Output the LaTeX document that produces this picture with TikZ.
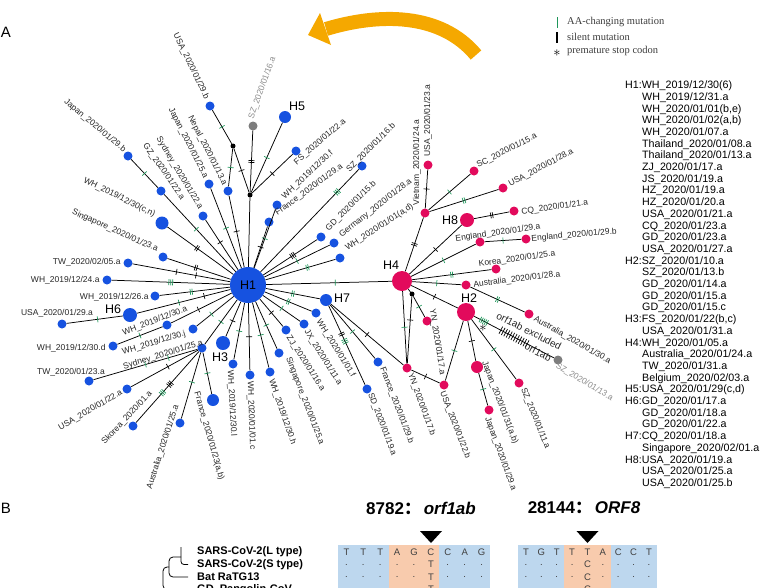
\documentclass[tikz,border=0pt]{standalone}
\usepackage{fontspec}
\setmainfont{Liberation Sans}
\newfontfamily\legfont{Liberation Serif}
\newfontfamily\cjkfont{Noto Sans CJK SC}
\usetikzlibrary{arrows.meta}
\definecolor{nblue}{RGB}{22,82,224}
\definecolor{npink}{RGB}{226,10,92}
\definecolor{ngray}{RGB}{125,125,125}
\definecolor{tgreen}{RGB}{30,150,90}
\definecolor{aorange}{RGB}{245,168,0}
\definecolor{cblue}{RGB}{189,215,238}
\definecolor{corange}{RGB}{248,203,173}
\definecolor{legtext}{RGB}{60,60,60}
\newcommand\tkI{\rule[-3pt]{0.7pt}{6pt}}
\newcommand\tkII{\tkI\hspace{1.2pt}\tkI}
\newcommand\tkIII{\tkI\hspace{1.2pt}\tkI\hspace{1.2pt}\tkI}
\newcommand\tkV{\tkIII\hspace{1.2pt}\tkII}
\newcommand\tkL{\rule[-4pt]{0.7pt}{8pt}\hspace{2pt}}
\newcommand\tkLong{\tkL\tkL\tkL\tkL\tkL\tkL\tkL\tkL\tkL\tkL\tkL\rule[-4pt]{0.7pt}{8pt}}
\begin{document}
\begin{tikzpicture}[x=1pt,y=-1pt,
  bn/.style={circle,fill=nblue,inner sep=0,minimum size=9pt},
  pn/.style={circle,fill=npink,inner sep=0,minimum size=9pt},
  gn/.style={circle,fill=ngray,inner sep=0,minimum size=9pt},
  jn/.style={circle,fill=black,inner sep=0,minimum size=5pt},
  hl/.style={font=\fontsize{12.5}{12.5}\selectfont,inner sep=0},
  lab/.style={font=\fontsize{8.5}{8.5}\selectfont,inner sep=0.3pt,text=black!85},
  glab/.style={lab,text=black!45},
  edg/.style={line width=0.75pt},
  tg/.style={sloped,inner sep=0,text=tgreen},
  tb/.style={sloped,inner sep=0,text=black},
  lst/.style={font=\fontsize{10.7}{10.7}\selectfont,inner sep=0,anchor=base west},
  leg/.style={font=\legfont\fontsize{10.5}{10.5}\selectfont,text=legtext,inner sep=0,anchor=west},
  seq/.style={font=\fontsize{9.5}{9.5}\selectfont,text=black!75,inner sep=0},
  blab/.style={font=\bfseries\fontsize{11}{11}\selectfont,inner sep=0,anchor=west},
  ttl/.style={font=\bfseries\fontsize{17}{17}\selectfont,inner sep=0}
]
\useasboundingbox (0,0) rectangle (768,587);
\clip (0,0) rectangle (768,587);

% ---------- panel letters ----------
\node[font=\fontsize{15}{15}\selectfont,inner sep=0] (pA) at (6,32) {A};
\node[font=\fontsize{15}{15}\selectfont,inner sep=0] (pB) at (6,508) {B};

% ---------- orange arrow ----------
\draw[aorange,line width=14pt] (476,55) .. controls (440.6,12.4) and (378.9,13) .. (326,29);
\fill[aorange] (320,13) -- (331,45) -- (308,35) -- cycle;

% ---------- legend ----------
\draw[tgreen,line width=0.9pt] (557,17) -- (557,28);
\draw[black,line width=1.1pt] (557,32) -- (557,43);
\node[inner sep=0,font=\Large] (lgs) at (557,53) {$\ast$};
\node[leg] (lg1) at (567,22) {AA-changing mutation};
\node[leg] (lg2) at (567,37) {silent mutation};
\node[leg] (lg3) at (567,51) {premature stop codon};

% ---------- hub and haplotypes ----------
\node[circle,fill=nblue,inner sep=0,minimum size=36pt,font=\fontsize{12.5}{12.5}\selectfont] (H1) at (248,285) {H1};
\node[pn,minimum size=20pt] (H4) at (402,281) {};
\node[pn,minimum size=18pt] (H2) at (466,312) {};
\node[pn,minimum size=14pt] (H8) at (467,220) {};
\node[bn,minimum size=12pt] (H7) at (326,300) {};
\node[bn,minimum size=14pt] (H3) at (223,343) {};
\node[bn,minimum size=14pt] (H6) at (130,315) {};
\node[bn,minimum size=12pt] (H5) at (285,117) {};
\node[hl] (tH4) at (391,265) {H4};
\node[hl] (tH2) at (469,298) {H2};
\node[hl] (tH8) at (450,220) {H8};
\node[hl] (tH7) at (342,298) {H7};
\node[hl] (tH3) at (220,357) {H3};
\node[hl] (tH6) at (113,309) {H6};
\node[hl] (tH5) at (297,106) {H5};

% ---------- blue leaves ----------
\node[jn] (J1) at (233,146) {};
\node[jn] (J2) at (250,195) {};
\node[bn] (U29b) at (210,106) {};
\node[bn] (Nep) at (228,191) {};
\node[bn] (Jp25a) at (209,184) {};
\node[bn] (Syd22) at (203,216) {};
\node[bn] (GZ) at (161,191) {};
\node[bn] (Jp29b) at (128,156) {};
\node[bn,minimum size=13pt] (WHcn) at (162,223) {};
\node[bn] (Sg23) at (163,257) {};
\node[bn] (TW05) at (128,263) {};
\node[bn] (W24) at (107,280) {};
\node[bn] (W26) at (155,296) {};
\node[bn] (U29a) at (62,324) {};
\node[bn] (W30a) at (167,325) {};
\node[bn] (W30d) at (113,346) {};
\node[bn] (W30j) at (193,329) {};
\node[bn] (Syd25) at (202,348) {};
\node[bn] (TW23) at (89,381) {};
\node[bn] (U22a) at (127,389) {};
\node[bn] (Sko) at (133,426) {};
\node[bn] (Au25) at (180,423) {};
\node[bn,minimum size=12pt] (Fr23) at (213,400) {};
\node[bn] (W30l) at (233,364) {};
\node[bn] (W01c) at (250,375) {};
\node[bn] (W30h) at (270,372) {};
\node[bn] (Sg25) at (279,353) {};
\node[bn] (ZJ) at (286,330) {};
\node[bn] (JX) at (304,324) {};
\node[bn] (W01f) at (316,313) {};
\node[bn] (SD) at (367,389) {};
\node[bn] (Fr29b) at (378,362) {};
\node[gn] (SZ16a) at (253,126) {};
\node[bn] (FS) at (296,151) {};
\node[bn] (W30f) at (277,205) {};
\node[bn] (Fr29a) at (269,222) {};
\node[bn] (SZ16b) at (362,166) {};
\node[bn] (GD15b) at (321,237) {};
\node[bn] (Ger) at (334,243) {};
\node[bn] (W01ad) at (340,258) {};

% ---------- pink leaves ----------
\node[pn] (YNb) at (407,368) {};
\node[jn] (J3) at (412,294) {};
\node[pn] (YNa) at (427,321) {};
\node[pn] (V) at (425,213) {};
\node[pn] (U23a) at (428,165) {};
\node[pn] (SC) at (474,171) {};
\node[pn] (U28a) at (503,188) {};
\node[pn] (CQ) at (514,211) {};
\node[pn] (Ea) at (480,242) {};
\node[pn] (Eb) at (526,239) {};
\node[pn] (Ko) at (496,269) {};
\node[pn] (Au28) at (466,285) {};
\node[pn] (Au30) at (529,314) {};
\node[gn] (SZ13a) at (558,360) {};
\node[pn] (SZ11) at (519,383) {};
\node[pn,minimum size=12pt] (Jp31) at (477,367) {};
\node[pn] (Jp29a) at (489,410) {};
\node[pn] (U22b) at (444,385) {};

% ---------- edges ----------
\draw[edg] (H1) -- (Nep) node[tb,pos=.5]{\tkI};
\draw[edg] (Nep) -- (J1) node[tg,pos=.5]{\tkI};
\draw[edg] (J1) -- (U29b) node[tg,pos=.5]{\tkI};
\draw[edg] (J1) -- (J2) node[tb,pos=.5]{\tkI};
\draw[edg] (H1) -- (J2);
\draw[edg] (J2) -- (SZ16a) node[tb,pos=.5]{\tkII};
\draw[edg] (J2) -- (H5) node[tg,pos=.5]{\tkI};
\draw[edg] (J2) -- (FS) node[tb,pos=.5]{\tkI};
\draw[edg] (Jp25a) -- (H1) node[tg,pos=.5]{\tkI};
\draw[edg] (Syd22) -- (H1) node[tb,pos=.45]{\tkI};
\draw[edg] (GZ) -- (H1) node[tg,pos=.45]{\tkI};
\draw[edg] (Jp29b) -- (GZ) node[tg,pos=.5]{\tkI};
\draw[edg] (WHcn) -- (H1) node[tb,pos=.45]{\tkII};
\draw[edg] (Sg23) -- (H1) node[tb,pos=.45]{\tkII};
\draw[edg] (TW05) -- (H1) node[tb,pos=.45]{\tkI} node[tb,pos=.65]{\tkI};
\draw[edg] (W24) -- (H1) node[tg,pos=.5]{\tkIII};
\draw[edg] (W26) -- (H1) node[tg,pos=.45]{\tkII};
\draw[edg] (H6) -- (H1) node[tg,pos=.45]{\tkI} node[tb,pos=.72]{\tkI};
\draw[edg] (U29a) -- (H6) node[tg,pos=.55]{\tkI};
\draw[edg] (W30a) -- (H1) node[tb,pos=.45]{\tkI};
\draw[edg] (W30d) -- (W30a) node[tg,pos=.5]{\tkI};
\draw[edg] (W30j) -- (H1) node[tg,pos=.4]{\tkI};
\draw[edg] (Syd25) -- (H1) node[tg,pos=.5]{\tkI};
\draw[edg] (TW23) -- (Syd25) node[tg,pos=.5]{\tkI} node[tg,pos=.72]{\tkI};
\draw[edg] (U22a) -- (Syd25) node[tb,pos=.55]{\tkI};
\draw[edg] (Sko) -- (Syd25) node[tg,pos=.42]{\tkIII} node[tb,pos=.54]{\tkIII};
\draw[edg] (Au25) -- (Syd25) node[tg,pos=.55]{\tkI};
\draw[edg] (Fr23) -- (Syd25) node[tg,pos=.5]{\tkI};
\draw[edg] (H3) -- (H1) node[tb,pos=.45]{\tkI};
\draw[edg] (W30l) -- (H1) node[tg,pos=.5]{\tkI};
\draw[edg] (W01c) -- (H1) node[tb,pos=.5]{\tkI};
\draw[edg] (W30h) -- (H1) node[tg,pos=.5]{\tkI};
\draw[edg] (Sg25) -- (H1) node[tg,pos=.5]{\tkI};
\draw[edg] (ZJ) -- (H1) node[tb,pos=.5]{\tkI};
\draw[edg] (JX) -- (H1) node[tg,pos=.5]{\tkI};
\draw[edg] (W01f) -- (H1) node[tg,pos=.5]{\tkII};
\draw[edg] (H7) -- (H1) node[tg,pos=.5]{\tkII};
\draw[edg] (SD) -- (H7) node[tg,pos=.55]{\tkIII} node[tb,pos=.64]{\tkII};
\draw[edg] (Fr29b) -- (H7) node[tg,pos=.5]{\tkI};
\draw[edg] (YNb) -- (H7) node[tb,pos=.5]{\tkI};
\draw[edg] (H1) -- (H4) node[tg,pos=.55]{\tkI};
\draw[edg] (W30f) -- (H1) node[tg,pos=.5]{\tkI};
\draw[edg] (Fr29a) -- (H1) node[tb,pos=.5]{\tkI};
\draw[edg] (SZ16b) -- (H1) node[tg,pos=.22]{\tkIII};
\draw[edg] (GD15b) -- (H1) node[tb,pos=.45]{\tkIII};
\draw[edg] (Ger) -- (H1) node[tg,pos=.5]{\tkI};
\draw[edg] (W01ad) -- (H1) node[tg,pos=.4]{\tkII};
% right cluster
\draw[edg] (V) -- (H4) node[tb,pos=.5]{\tkII};
\draw[edg] (V) -- (U23a) node[tb,pos=.5]{\tkI};
\draw[edg] (V) -- (SC) node[tg,pos=.5]{\tkI};
\draw[edg] (V) -- (U28a) node[tg,pos=.5]{\tkII};
\draw[edg] (H4) -- (H8) node[tb,pos=.5]{\tkI};
\draw[edg] (H8) -- (CQ) node[tb,pos=.5]{\tkII};
\draw[edg] (H4) -- (Ea) node[tg,pos=.5]{\tkI};
\draw[edg] (Ea) -- (Eb) node[tg,pos=.5]{\tkI};
\draw[edg] (H4) -- (Ko) node[tg,pos=.5]{\tkII};
\draw[edg] (H4) -- (Au28) node[tg,pos=.5]{\tkI};
\draw[edg] (Au28) -- (Au30) node[tg,pos=.5]{\tkII};
\draw[edg] (H4) -- (H2) node[tb,pos=.5]{\tkI};
\draw[edg] (H2) -- (SZ13a) node[tg,pos=.12]{\tkV} node[tb,pos=.5]{\tkLong};
\node[inner sep=0,font=\Large] (st) at (483,328) {$\ast$};
\draw[edg] (H2) -- (SZ11) node[tg,pos=.5]{\tkI};
\draw[edg] (H2) -- (Jp31) node[tb,pos=.5]{\tkI};
\draw[edg] (Jp31) -- (Jp29a) node[tg,pos=.5]{\tkI};
\draw[edg] (H2) -- (U22b) node[tg,pos=.5]{\tkI};
\draw[edg] (YNb) -- (U22b) node[tb,pos=.5]{\tkI};
\draw[edg] (H4) -- (J3);
\draw[edg] (J3) -- (YNa) node[tg,pos=.5]{\tkI};
\draw[edg] (J3) -- (YNb) node[tb,pos=.35]{\tkI};
\draw[edg] (H4) -- (YNb) node[tg,pos=.5]{\tkI};

% ---------- labels (blue side) ----------
\node[lab,rotate=-64,anchor=east] (lU29b) at (207,99) {USA\_2020/01/29.b};
\node[lab,rotate=-63,anchor=east] (lNep) at (225,185) {Nepal\_2020/01/13.a};
\node[lab,rotate=-63,anchor=east] (lJp25a) at (206,178) {Japan\_2020/01/25.a};
\node[lab,rotate=-59,anchor=east] (lSyd22) at (201,209) {Sydney\_2020/01/22.a};
\node[lab,rotate=-55,anchor=east] (lGZ) at (183,199) {GZ\_2020/01/22.a};
\node[lab,rotate=-40,anchor=east] (lJp29b) at (125,151) {Japan\_2020/01/29.b};
\node[lab,rotate=-26,anchor=east] (lWHcn) at (155,215) {WH\_2019/12/30(c,n)};
\node[lab,rotate=-24,anchor=east] (lSg23) at (158,250) {Singapore\_2020/01/23.a};
\node[lab,anchor=east] (lTW05) at (121,262) {TW\_2020/02/05.a};
\node[lab,anchor=east] (lW24) at (100,280) {WH\_2019/12/24.a};
\node[lab,anchor=east] (lW26) at (149,297) {WH\_2019/12/26.a};
\node[lab] (lU29a) at (57,313) {USA\_2020/01/29.a};
\node[lab,rotate=21] (lW30a) at (155,321) {WH\_2019/12/30.a};
\node[lab,rotate=17] (lW30j) at (154,343) {WH\_2019/12/30.j};
\node[lab,anchor=east] (lW30d) at (106,348) {WH\_2019/12/30.d};
\node[lab,rotate=17] (lSyd25) at (163,355) {Sydney\_2020/01/25.a};
\node[lab] (lTW23) at (71,372) {TW\_2020/01/23.a};
\node[lab,rotate=30,anchor=east] (lU22a) at (122,392) {USA\_2020/01/22.a};
\node[lab,rotate=47] (lSko) at (127,418) {Skorea\_2020/01.a};
\node[lab,rotate=72] (lAu25) at (163,447) {Australia\_2020/01/25.a};
\node[lab,rotate=-74] (lFr23) at (209,436) {France\_2020/01/23(a,b)};
\node[lab,rotate=-87,anchor=west] (lW30l) at (230,370) {WH\_2019/12/30.l};
\node[lab,rotate=-88,anchor=west] (lW01c) at (250,381) {WH\_2020/01/01.c};
\node[lab,rotate=-71,anchor=west] (lW30h) at (271,379) {WH\_2019/12/30.h};
\node[lab,rotate=-69,anchor=west] (lSg25) at (288,357) {Singapore\_2020/01/25.a};
\node[lab,rotate=-57,anchor=west] (lZJ) at (288,336) {ZJ\_2020/01/16.a};
\node[lab,rotate=-58,anchor=west] (lJX) at (306,330) {JX\_2020/01/11.a};
\node[lab,rotate=-58,anchor=west] (lW01f) at (318,320) {WH\_2020/01/01.f};
\node[lab,rotate=-69,anchor=west] (lSD) at (370,393) {SD\_2020/01/19.a};
\node[lab,rotate=-69,anchor=west] (lFr29b) at (382,367) {France\_2020/01/29.b};
\node[lab,rotate=-70,anchor=west] (lYNb) at (410,373) {YN\_2020/01/17.b};
\node[glab,rotate=70,anchor=west] (lSZ16a) at (251,119) {SZ\_2020/01/16.a};
\node[lab,rotate=41] (lFS) at (320,142) {FS\_2020/01/22.a};
\node[lab,rotate=43,anchor=west] (lW30f) at (283,198) {WH\_2019/12/30.f};
\node[lab,rotate=36,anchor=west] (lFr29a) at (276,214) {France\_2020/01/29.a};
\node[lab,rotate=45] (lSZ16b) at (371,148) {SZ\_2020/01/16.b};
\node[lab,rotate=45,anchor=west] (lGD15b) at (327,230) {GD\_2020/01/15.b};
\node[lab,rotate=38,anchor=west] (lGer) at (340,236) {Germany\_2020/01/28.a};
\node[lab,rotate=33,anchor=west] (lW01ad) at (346,249) {WH\_2020/01/01(a,d)};

% ---------- labels (pink side) ----------
\node[lab,rotate=90,anchor=west] (lV) at (417,206) {Vietnam\_2020/01/24.a};
\node[lab,rotate=90,anchor=west] (lU23a) at (428,157) {USA\_2020/01/23.a};
\node[lab,rotate=27,anchor=west] (lSC) at (477,166) {SC\_2020/01/15.a};
\node[lab,rotate=28,anchor=west] (lU28a) at (509,185) {USA\_2020/01/28.a};
\node[lab,rotate=8,anchor=west] (lCQ) at (521,212) {CQ\_2020/01/21.a};
\node[lab,rotate=8] (lEa) at (498,233) {England\_2020/01/29.a};
\node[lab,rotate=5,anchor=west] (lEb) at (531,239) {England\_2020/01/29.b};
\node[lab,rotate=8] (lKo) at (517,259) {Korea\_2020/01/25.a};
\node[lab,rotate=7,anchor=west] (lAu28) at (473,285) {Australia\_2020/01/28.a};
\node[lab,rotate=-30,anchor=west] (lAu30) at (534,318) {Australia\_2020/01/30.a};
\node[glab,rotate=-31,anchor=west] (lSZ13a) at (556,365) {SZ\_2020/01/13.a};
\node[lab,rotate=-68,anchor=west] (lSZ11) at (523,388) {SZ\_2020/01/11.a};
\node[lab,rotate=-69,anchor=west] (lJp31) at (484,361) {Japan\_2020/01/31(a,b)};
\node[lab,rotate=-70,anchor=west] (lJp29a) at (487,417) {Japan\_2020/01/29.a};
\node[lab,rotate=-69,anchor=west] (lU22b) at (442,391) {USA\_2020/01/22.b};
\node[lab,rotate=-81,anchor=west] (lYNa) at (432,309) {YN\_2020/01/17.a};
\node[lab,font=\fontsize{10}{10}\selectfont,rotate=-27] (lorfx) at (529,331) {orf1ab excluded};
\node[lab,font=\fontsize{10}{10}\selectfont,rotate=-27] (lorf) at (538,352) {orf1ab};

% ---------- haplotype list ----------
\node[lst] (r0) at (625,88.6) {H1:WH\_2019/12/30(6)};
\node[lst] (r1) at (642,100.3) {WH\_2019/12/31.a};
\node[lst] (r2) at (642,112.0) {WH\_2020/01/01(b,e)};
\node[lst] (r3) at (642,123.7) {WH\_2020/01/02(a,b)};
\node[lst] (r4) at (642,135.4) {WH\_2020/01/07.a};
\node[lst] (r5) at (642,147.1) {Thailand\_2020/01/08.a};
\node[lst] (r6) at (642,158.8) {Thailand\_2020/01/13.a};
\node[lst] (r7) at (642,170.5) {ZJ\_2020/01/17.a};
\node[lst] (r8) at (642,182.2) {JS\_2020/01/19.a};
\node[lst] (r9) at (642,193.9) {HZ\_2020/01/19.a};
\node[lst] (r10) at (642,205.6) {HZ\_2020/01/20.a};
\node[lst] (r11) at (642,217.3) {USA\_2020/01/21.a};
\node[lst] (r12) at (642,229.0) {CQ\_2020/01/23.a};
\node[lst] (r13) at (642,240.7) {GD\_2020/01/23.a};
\node[lst] (r14) at (642,252.4) {USA\_2020/01/27.a};
\node[lst] (r15) at (625,264.1) {H2:SZ\_2020/01/10.a};
\node[lst] (r16) at (642,275.8) {SZ\_2020/01/13.b};
\node[lst] (r17) at (642,287.5) {GD\_2020/01/14.a};
\node[lst] (r18) at (642,299.2) {GD\_2020/01/15.a};
\node[lst] (r19) at (642,310.9) {GD\_2020/01/15.c};
\node[lst] (r20) at (625,322.6) {H3:FS\_2020/01/22(b,c)};
\node[lst] (r21) at (642,334.3) {USA\_2020/01/31.a};
\node[lst] (r22) at (625,346.0) {H4:WH\_2020/01/05.a};
\node[lst] (r23) at (642,357.7) {Australia\_2020/01/24.a};
\node[lst] (r24) at (642,369.4) {TW\_2020/01/31.a};
\node[lst] (r25) at (642,381.1) {Belgium\_2020/02/03.a};
\node[lst] (r26) at (625,392.8) {H5:USA\_2020/01/29(c,d)};
\node[lst] (r27) at (625,404.5) {H6:GD\_2020/01/17.a};
\node[lst] (r28) at (642,416.2) {GD\_2020/01/18.a};
\node[lst] (r29) at (642,427.9) {GD\_2020/01/22.a};
\node[lst] (r30) at (625,439.6) {H7:CQ\_2020/01/18.a};
\node[lst] (r31) at (642,451.3) {Singapore\_2020/02/01.a};
\node[lst] (r32) at (625,463.0) {H8:USA\_2020/01/19.a};
\node[lst] (r33) at (642,474.7) {USA\_2020/01/25.a};
\node[lst] (r34) at (642,486.4) {USA\_2020/01/25.b};

% ---------- panel B ----------
\node[ttl] (t1) at (421,508) {8782{\cjkfont ：}\,\textit{orf1ab}};
\node[ttl] (t2) at (584,508) {28144{\cjkfont ：}\,\textit{ORF8}};
\fill (420,531) -- (442,531) -- (431,543) -- cycle;
\fill (576.5,531) -- (598.5,531) -- (587.5,543) -- cycle;

\fill[cblue] (338,545) rectangle (490,596);
\fill[corange] (388.7,545) rectangle (439.3,596);
\fill[cblue] (518.3,545) rectangle (656.7,596);
\fill[corange] (564.4,545) rectangle (610.6,596);
\foreach \c [count=\i from 0] in {T,T,T,A,G,C,C,A,G}
  \node[seq] (sa\i) at ({346.4+16.9*\i},552) {\c};
\foreach \r in {1,2,3}
  \foreach \i in {0,...,8}
    \node[seq] (sa\r-\i) at ({346.4+16.9*\i},{552+12.5*\r}) {\ifnum\i=5 T\else .\fi};
\foreach \c [count=\i from 0] in {T,G,T,T,T,A,C,C,T}
  \node[seq] (sb\i) at ({526+15.38*\i},552) {\c};
\foreach \r in {1,2,3}
  \foreach \i in {0,...,8}
    \node[seq] (sb\r-\i) at ({526+15.38*\i},{552+12.5*\r}) {\ifnum\i=4 C\else .\fi};

\node[blab] (bL) at (197,552) {SARS-CoV-2(L type)};
\node[blab] (bS) at (197,564.5) {SARS-CoV-2(S type)};
\node[blab] (bB) at (197,577) {Bat RaTG13};
\node[blab] (bG) at (197,589.5) {GD\_Pangolin-CoV};
\draw[line width=0.8pt,rounded corners=3pt] (181,547) -- (181,564.5) -- (188,564.5);
\draw[line width=0.8pt,rounded corners=4pt] (181,557) -- (169,557) -- (169,577) -- (188,577);
\draw[line width=0.8pt,rounded corners=4pt] (169,567) -- (163,567) -- (163,589.5) -- (188,589.5);
\end{tikzpicture}
\end{document}
